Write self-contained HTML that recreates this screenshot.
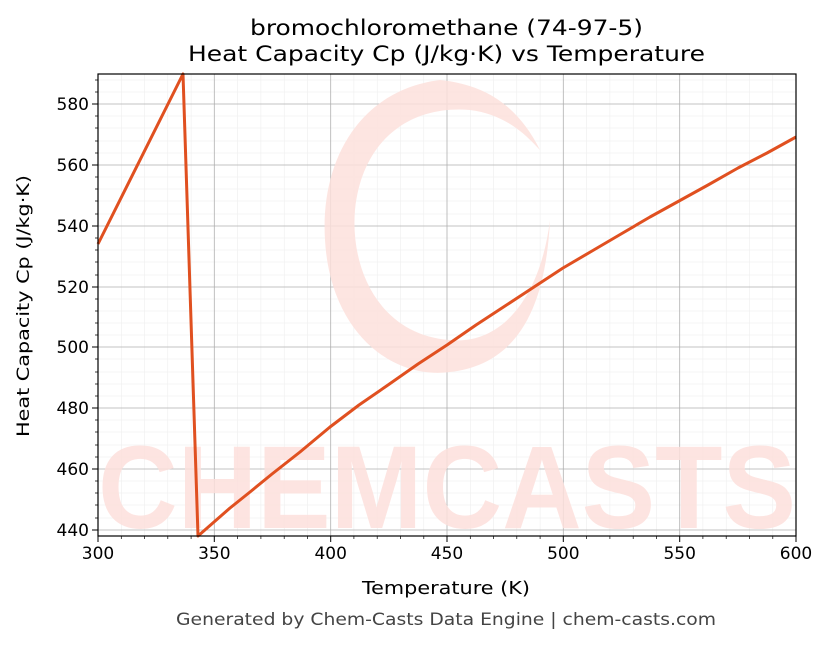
<!DOCTYPE html>
<html><head><meta charset="utf-8"><style>
body{margin:0;background:#fff;width:830px;height:644px;overflow:hidden}
</style></head><body>
<svg width="830" height="644" viewBox="0 0 830 644" xmlns="http://www.w3.org/2000/svg" font-family="'DejaVu Sans','Liberation Sans',sans-serif">
<rect width="830" height="644" fill="#fff"/>
<text x="250" y="35" font-size="21" textLength="393" lengthAdjust="spacingAndGlyphs">bromochloromethane (74-97-5)</text>
<text x="188" y="61" font-size="21" textLength="517" lengthAdjust="spacingAndGlyphs">Heat Capacity Cp (J/kg·K) vs Temperature</text>
<g stroke="#eee" stroke-width="0.6">
<path d="M121.3 74V536M144.5 74V536M167.8 74V536M191.1 74V536M237.6 74V536M260.9 74V536M284.2 74V536M307.4 74V536M353.9 74V536M377.2 74V536M400.5 74V536M423.8 74V536M470.3 74V536M493.6 74V536M516.8 74V536M540.1 74V536M586.6 74V536M609.9 74V536M633.2 74V536M656.4 74V536M702.9 74V536M726.2 74V536M749.5 74V536M772.8 74V536"/>
<path d="M98 518H796M98 505H796M98 493H796M98 481H796M98 457H796M98 445H796M98 432H796M98 420H796M98 396H796M98 384H796M98 372H796M98 359H796M98 335H796M98 323H796M98 311H796M98 299H796M98 275H796M98 262H796M98 250H796M98 238H796M98 214H796M98 201H796M98 189H796M98 177H796M98 153H796M98 141H796M98 128H796M98 116H796M98 92H796M98 80H796"/>
</g>
<g stroke="#b0b0b0" stroke-width="0.8">
<path d="M214.3 74V536M330.7 74V536M447 74V536M563.3 74V536M679.7 74V536"/>
<path d="M98 530H796M98 469H796M98 408H796M98 347H796M98 287H796M98 226H796M98 165H796M98 104H796"/>
</g>
<g fill="#fde0dc" opacity="0.85">
<path d="M440 80 C360 90 320 160 325 240 C330 330 390 380 450 372 C510 365 545 320 550 220 C540 300 500 345 450 340 C380 335 350 270 355 210 C362 140 410 105 470 110 C510 115 530 140 540 150 C520 110 490 85 440 80Z"/>
<text x="98" y="528" font-size="118" font-weight="bold" textLength="698" lengthAdjust="spacingAndGlyphs" font-family="'Liberation Sans',sans-serif">CHEMCASTS</text>
</g>
<polyline fill="none" stroke="#e05020" stroke-width="3" stroke-linejoin="round" points="98,244 183,74 198,536 214,522 230,508 250,492 272,474 300,452 330,427 359,405 388,385 418,364 447,345 476,325 505,306 534,287 563,268 592,251 621,234 650,217 679,201 708,185 738,168 767,153 796,137"/>
<rect x="98" y="74" width="698" height="462" fill="none" stroke="#000" stroke-width="1.2"/>
<g stroke="#000" stroke-width="1">
<path d="M98 536v6M214.3 536v6M330.7 536v6M447 536v6M563.3 536v6M679.7 536v6M796 536v6"/>
<path d="M98 530h-6M98 469h-6M98 408h-6M98 347h-6M98 287h-6M98 226h-6M98 165h-6M98 104h-6"/>
</g>
<g stroke="#000" stroke-width="0.7">
<path d="M121.3 536v3M144.5 536v3M167.8 536v3M191.1 536v3M237.6 536v3M260.9 536v3M284.2 536v3M307.4 536v3M353.9 536v3M377.2 536v3M400.5 536v3M423.8 536v3M470.3 536v3M493.6 536v3M516.8 536v3M540.1 536v3M586.6 536v3M609.9 536v3M633.2 536v3M656.4 536v3M702.9 536v3M726.2 536v3M749.5 536v3M772.8 536v3"/>
<path d="M98 518h-3M98 505h-3M98 493h-3M98 481h-3M98 457h-3M98 445h-3M98 432h-3M98 420h-3M98 396h-3M98 384h-3M98 372h-3M98 359h-3M98 335h-3M98 323h-3M98 311h-3M98 299h-3M98 275h-3M98 262h-3M98 250h-3M98 238h-3M98 214h-3M98 201h-3M98 189h-3M98 177h-3M98 153h-3M98 141h-3M98 128h-3M98 116h-3M98 92h-3M98 80h-3"/>
</g>
<g font-size="17" text-anchor="middle">
<text x="98" y="559">300</text><text x="214.3" y="559">350</text><text x="330.7" y="559">400</text><text x="447" y="559">450</text><text x="563.3" y="559">500</text><text x="679.7" y="559">550</text><text x="796" y="559">600</text>
</g>
<g font-size="17" text-anchor="end">
<text x="89" y="536">440</text><text x="89" y="475">460</text><text x="89" y="414">480</text><text x="89" y="353">500</text><text x="89" y="293">520</text><text x="89" y="232">540</text><text x="89" y="171">560</text><text x="89" y="110">580</text>
</g>
<text x="362" y="594" font-size="18" textLength="168" lengthAdjust="spacingAndGlyphs">Temperature (K)</text>
<text x="0" y="0" font-size="17" textLength="262" lengthAdjust="spacingAndGlyphs" transform="translate(29 437) rotate(-90)">Heat Capacity Cp (J/kg·K)</text>
<text x="176" y="625" font-size="17" fill="#444" textLength="540" lengthAdjust="spacingAndGlyphs">Generated by Chem-Casts Data Engine | chem-casts.com</text>
</svg>
</body></html>
